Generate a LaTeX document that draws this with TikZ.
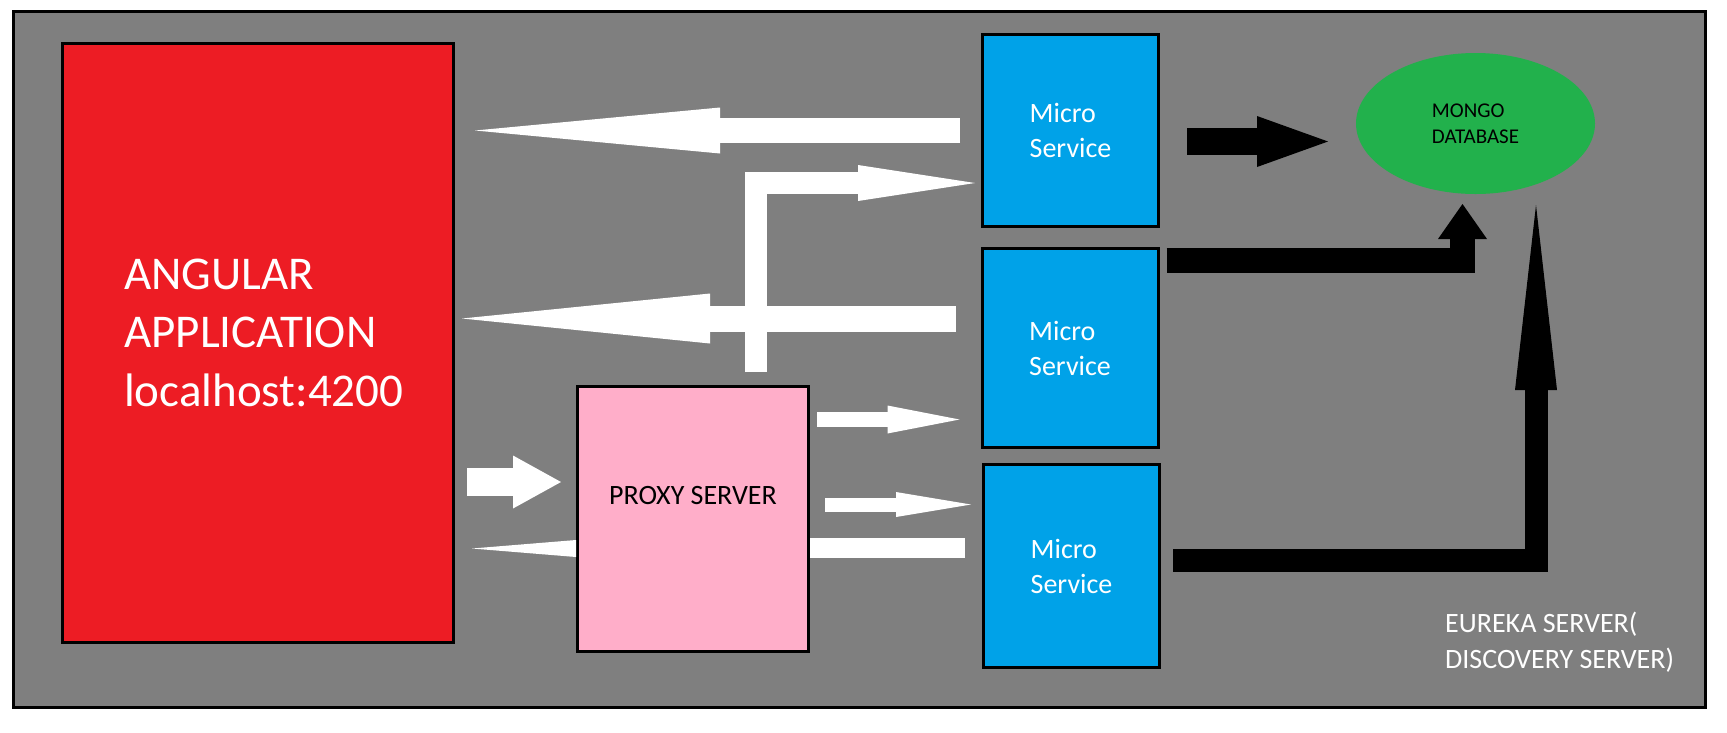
\documentclass[tikz,border=0pt]{standalone}
\usepackage{fontspec}
\setmainfont{Carlito}
\usetikzlibrary{arrows.meta,calc,shapes.geometric}
\definecolor{paneltone}{RGB}{127,127,127}
\definecolor{appred}{RGB}{237,28,36}
\definecolor{proxypink}{RGB}{255,174,201}
\definecolor{serviceblue}{RGB}{0,162,232}
\definecolor{mongogreen}{RGB}{34,177,76}
\tikzset{
	box/.style={draw=black, line width=3pt, inner sep=0pt},
	service/.style={box, fill=serviceblue, minimum width=176pt, text=white, align=left, font=\fontsize{28}{35}\selectfont},
	whitearrow/.style={draw=white, line width=#1},
	blackarrow/.style={draw=black, line width=#1},
	blockhead/.style 2 args={-{Triangle[length=#1pt, width=#2pt, line width=0pt]}},
}

\begin{document}
\begin{tikzpicture}[x=1pt, y=-1pt]
			%%%%% START %%%%%
			
			\path[use as bounding box, fill=white] (0,0) rectangle (1727,732);
			\draw[line width=3pt, fill=paneltone] (13.5,11.5) rectangle (1705.5,707.5);
			
			\node[box, fill=appred, minimum width=391pt, minimum height=599pt] (app) at (258,343) {};
			\node[anchor=base west, inner sep=0pt, align=left, text=white, font=\fontsize{47}{58.5}\selectfont] (applabel) at (124,406) {ANGULAR\\APPLICATION\\localhost:4200};
			
			\node[box, fill=proxypink, minimum width=231pt, minimum height=265pt,
				label={[yshift=24pt, font=\fontsize{28}{34}\selectfont]center:PROXY SERVER}] (proxy) at (693,519) {};
			
			\node[service, minimum height=192pt] (ms1) at (1070.5,130.5) {Micro\\Service};
			\node[service, minimum height=199pt] (ms2) at (1070,348) {Micro\\Service};
			\node[service, minimum height=203pt] (ms3) at (1071.5,566) {Micro\\Service};
			
			\node[ellipse, fill=mongogreen, minimum width=239pt, minimum height=141pt, inner sep=0pt, outer sep=0pt,
				align=left, font=\fontsize{21}{26}\selectfont] (db) at (1475.5,123.5) {MONGO\\DATABASE};
			
			\node[anchor=base west, inner sep=0pt, align=left, text=white, font=\fontsize{28}{36}\selectfont] (eureka) at (1445,668) {EUREKA SERVER(\\DISCOVERY SERVER)};
			
			% white arrows
			\draw[whitearrow=25pt, blockhead={245}{46}, shorten <=21pt, shorten >=20pt] (ms1.west) -- (ms1.west -| app.east);
			\draw[whitearrow=26pt, blockhead={248}{50}, shorten <=25pt, shorten >=7pt] ($(ms2.west)+(0,-29.5)$) -- ($(ms2.west -| app.east)+(0,-29.5)$);
			\draw[whitearrow=22pt, blockhead={117}{36}, shorten <=13pt, shorten >=6pt] ($(proxy.north)+(62.5,0)$) |- ($(ms1.west)+(0,52.5)$);
			\draw[whitearrow=28pt, blockhead={48}{53}, shorten <=12pt, shorten >=15pt] ($(proxy.west -| app.east)+(0,-37)$) -- ($(proxy.west)+(0,-37)$);
			\draw[whitearrow=1pt, blockhead={104}{17}, shorten >=17pt] ($(proxy.west)+(0,29.5)$) -- ($(proxy.west -| app.east)+(0,29.5)$);
			\draw[whitearrow=15pt, blockhead={72}{28}, shorten <=7pt, shorten >=21pt] ($(proxy.east)+(0,-99.5)$) -- ($(proxy.east -| ms2.west)+(0,-99.5)$);
			\draw[whitearrow=14pt, blockhead={75}{25}, shorten <=15pt, shorten >=11pt] ($(proxy.east)+(0,-14.5)$) -- ($(proxy.east -| ms3.west)+(0,-14.5)$);
			\draw[whitearrow=20pt, shorten <=17pt] ($(ms3.west)+(0,-18)$) -- ($(ms3.west -| proxy.east)+(0,-18)$);
			
			% black arrows
			\draw[blackarrow=27pt, blockhead={71}{51}, shorten <=27pt, shorten >=28pt] ($(ms1.east)+(0,11)$) -- ($(ms1.east -| db.west)+(0,11)$);
			\draw[blackarrow=25pt, blockhead={35}{49}, shorten <=7pt, shorten >=10pt] ($(ms2.north east)+(0,13)$) -| ($(db.south)+(-13,0)$);
			\draw[blackarrow=23pt, blockhead={185}{42}, shorten <=12pt, shorten >=11pt] ($(ms3.east)+(0,-6)$) -| ($(db.south)+(60.5,0)$);
			
			%%%%% END %%%%%
\end{tikzpicture}
\end{document}
